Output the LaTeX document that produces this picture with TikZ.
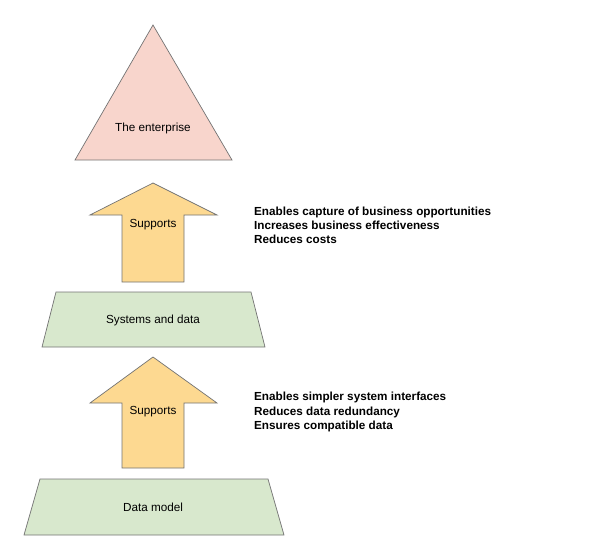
\documentclass[tikz,border=0pt]{standalone}
\usepackage{fontspec}
\setmainfont{Liberation Sans}
\begin{document}
\begin{tikzpicture}[x=0.03cm,y=-0.03cm,
    shapeline/.style={draw=black!55, line width=0.6pt},
    label/.style={font=\fontsize{10}{12}\selectfont},
    note/.style={font=\fontsize{10}{12}\selectfont\bfseries, anchor=west, align=left}]

        \useasboundingbox (0,0) rectangle (608,546);

        % the enterprise
        \filldraw[shapeline, fill={rgb,255:red,248;green,213;blue,204}] (153,25) -- (232,160) -- (75,160) -- cycle;
        \node[label] (enterprise) at (153,128) {The enterprise};

        % upper arrow
        \filldraw[shapeline, fill={rgb,255:red,253;green,217;blue,145}] (153,183) -- (217,215) -- (184,215) -- (184,282) -- (122,282) -- (122,215) -- (90,215) -- cycle;
        \node[label] (supportsA) at (153,225) {Supports};
        \node[note] (notesA) at (250,225) {Enables capture of business opportunities\\Increases business effectiveness\\Reduces costs};

        % systems and data
        \filldraw[shapeline, fill={rgb,255:red,216;green,232;blue,205}] (56,292) -- (251,292) -- (265,347) -- (42,347) -- cycle;
        \node[label] (systems) at (153,320) {Systems and data};

        % lower arrow
        \filldraw[shapeline, fill={rgb,255:red,253;green,217;blue,145}] (153,357) -- (217,403) -- (184,403) -- (184,468) -- (122,468) -- (122,403) -- (90,403) -- cycle;
        \node[label] (supportsB) at (153,412) {Supports};
        \node[note] (notesB) at (250,412) {Enables simpler system interfaces\\Reduces data redundancy\\Ensures compatible data};

        % data model
        \filldraw[shapeline, fill={rgb,255:red,216;green,232;blue,205}] (40,479) -- (268,479) -- (284,535) -- (24,535) -- cycle;
        \node[label] (datamodel) at (153,507) {Data model};

\end{tikzpicture}
\end{document}
